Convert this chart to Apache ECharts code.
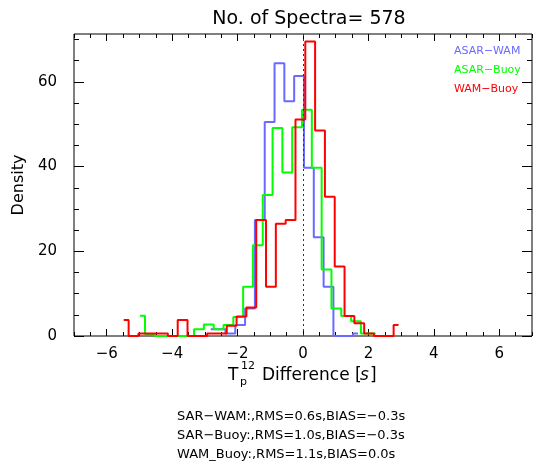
<!DOCTYPE html>
<html>
<head>
<meta charset="utf-8">
<script src="https://cdn.jsdelivr.net/npm/echarts@6/dist/echarts.min.js"></script>
<style>
  html, body { margin: 0; padding: 0; background: #fff; }
  #chart { width: 535px; height: 466px; }
</style>
</head>
<body>
<div id="chart"></div>
<script>
const titleText = "No. of Spectra= 578";
const seriesNames = ["ASAR\u2212WAM", "ASAR\u2212Buoy", "WAM\u2212Buoy"];
const seriesColors = ["#6a6aff", "#00ff00", "#ff0000"];

// bin centres (s) and densities
const blueX = [-2.82, -2.52, -2.22, -1.92, -1.62, -1.32, -1.02, -0.72, -0.42, -0.12, 0.18, 0.48, 0.78, 1.08, 1.38, 1.68];
const blueY = [1.6, 1.6, 0.6, 2.6, 6.5, 27.4, 50.5, 64.4, 55.4, 61.4, 39.7, 23.3, 11.6, 0, 0, 0.6];

const greenX = [-4.98, -4.68, -4.38, -4.08, -3.78, -3.48, -3.18, -2.88, -2.58, -2.28, -1.98, -1.68, -1.38, -1.08, -0.78, -0.48, -0.18, 0.12, 0.42, 0.72, 1.02, 1.32, 1.62, 1.92, 2.22];
const greenY = [4.8, 0.5, 0, 0, 0, 0, 1.6, 2.7, 1.6, 2.6, 4.5, 11.6, 21.4, 33.3, 49.1, 38.6, 49.3, 53.4, 39.7, 15.7, 6.5, 4.7, 3.5, 0.6, 0.6];

const redX = [-5.48, -5.18, -4.88, -4.58, -4.28, -3.98, -3.68, -3.38, -3.08, -2.78, -2.48, -2.18, -1.88, -1.58, -1.28, -0.98, -0.68, -0.38, -0.08, 0.22, 0.52, 0.82, 1.12, 1.42, 1.72, 2.02, 2.32, 2.62, 2.92];
const redY = [3.8, 0, 0.6, 0.6, 0.6, 0, 3.8, 0, 0, 0.6, 0.6, 2.4, 4.6, 6.7, 27.4, 11.6, 26.5, 27.4, 51.1, 69.5, 48.5, 32.9, 16.4, 4.7, 3.0, 0.6, 0, 0, 2.6];

const xMajorTicks = [-6, -4, -2, 0, 2, 4, 6];
const xMinorTicks = [-7, -6.5, -6, -5.5, -5, -4.5, -4, -3.5, -3, -2.5, -2, -1.5, -1, -0.5, 0, 0.5, 1, 1.5, 2, 2.5, 3, 3.5, 4, 4.5, 5, 5.5, 6, 6.5, 7];
const yMajorTicks = [0, 20, 40, 60];
const yMinorTicks = [0, 5, 10, 15, 20, 25, 30, 35, 40, 45, 50, 55, 60, 65, 70];

const statsLines = [
  "SAR\u2212WAM:,RMS=0.6s,BIAS=\u22120.3s",
  "SAR\u2212Buoy:,RMS=1.0s,BIAS=\u22120.3s",
  "WAM_Buoy:,RMS=1.1s,BIAS=0.0s"
];

const FONT = "DejaVu Sans";
const chart = echarts.init(document.getElementById("chart"));

const minusFmt = (v) => (v < 0 ? "\u2212" + Math.abs(v) : String(v));
const tickStyle = { color: "#000", width: 1 };

function xAx(pos, ticks, len, labels) {
  return {
    type: "value", position: pos, min: -7, max: 7,
    splitLine: { show: false }, axisLine: { show: false, onZero: false },
    axisTick: { inside: true, length: len, customValues: ticks, lineStyle: tickStyle },
    axisLabel: labels
      ? { customValues: ticks, formatter: minusFmt, margin: 11, fontSize: 15, color: "#000", fontFamily: FONT }
      : { show: false }
  };
}
function yAx(pos, ticks, len, labels) {
  return {
    type: "value", position: pos, min: 0, max: 71.3,
    splitLine: { show: false }, axisLine: { show: false, onZero: false },
    axisTick: { inside: true, length: len, customValues: ticks, lineStyle: tickStyle },
    axisLabel: labels
      ? { customValues: ticks, margin: 17, fontSize: 15, color: "#000", fontFamily: FONT }
      : { show: false },
    name: labels ? "Density" : "",
    nameLocation: "middle", nameGap: 41,
    nameTextStyle: { fontSize: 16, color: "#000", fontFamily: FONT }
  };
}

function steps(xs, ys) {
  return xs.map((x, i) => [x, ys[i]]);
}

const allX = [blueX, greenX, redX];
const allY = [blueY, greenY, redY];

const series = seriesNames.map((name, i) => ({
  name: name,
  type: "line",
  step: "middle",
  xAxisIndex: 0, yAxisIndex: 0,
  data: steps(allX[i], allY[i]),
  showSymbol: false, symbol: "none",
  lineStyle: { color: seriesColors[i], width: 2 },
  itemStyle: { color: seriesColors[i] },
  z: 3 + i
}));
series[0].markLine = {
  silent: true, symbol: "none", label: { show: false },
  lineStyle: { color: "#333", type: [2, 3], width: 1 },
  data: [{ xAxis: 0 }]
};

chart.setOption({
  animation: false,
  backgroundColor: "#fff",
  title: {
    text: titleText, left: 304, top: 5, textAlign: "center",
    textStyle: { fontSize: 19, fontWeight: "normal", color: "#000", fontFamily: FONT }
  },
  legend: {
    orient: "vertical", left: 444, top: 41, itemGap: 8,
    itemWidth: 0, itemHeight: 10, icon: "none",
    selectedMode: false,
    textStyle: { fontSize: 11, fontFamily: FONT, padding: 0 },
    data: seriesNames.map((n, i) => ({ name: n, textStyle: { color: seriesColors[i] } }))
  },
  grid: {
    left: 74, right: 3, top: 34, bottom: 130,
    show: true, borderColor: "#000", borderWidth: 1, backgroundColor: "transparent"
  },
  xAxis: [
    xAx("bottom", xMajorTicks, 7, true),
    xAx("bottom", xMinorTicks, 4, false),
    xAx("top", xMajorTicks, 7, false),
    xAx("top", xMinorTicks, 4, false)
  ],
  yAxis: [
    yAx("left", yMajorTicks, 10, true),
    yAx("left", yMinorTicks, 5, false),
    yAx("right", yMajorTicks, 10, false),
    yAx("right", yMinorTicks, 5, false)
  ],
  series: series,
  graphic: [
    { type: "text", left: 228, top: 367, style: { text: "T", font: "17px " + FONT, fill: "#000" } },
    { type: "text", left: 241, top: 361, style: { text: "12", font: "11px " + FONT, fill: "#000" } },
    { type: "text", left: 240, top: 377, style: { text: "p", font: "11px " + FONT, fill: "#000" } },
    { type: "text", left: 262, top: 367, style: { text: "Difference [", font: "17px " + FONT, fill: "#000" } },
    { type: "text", left: 360, top: 367, style: { text: "s", font: "italic 17px " + FONT, fill: "#000" } },
    { type: "text", left: 370, top: 367, style: { text: "]", font: "17px " + FONT, fill: "#000" } }
  ].concat(statsLines.map((t, i) => ({
    type: "text", left: 177, top: 410 + i * 19,
    style: { text: t, font: "13px " + FONT, fill: "#000" }
  })))
});
</script>
</body>
</html>
